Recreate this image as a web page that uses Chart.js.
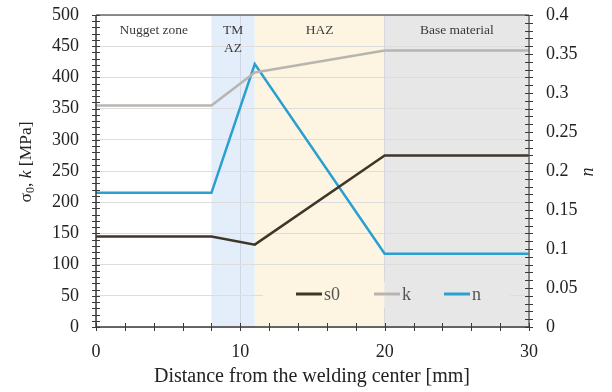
<!DOCTYPE html>
<html>
<head>
<meta charset="utf-8">
<script src="https://cdn.jsdelivr.net/npm/chart.js@4"></script>
<style>
  html, body { margin: 0; padding: 0; background: #fff; }
  #wrap { width: 612px; height: 392px; }
</style>
</head>
<body>
<div id="wrap"><canvas id="chart"></canvas></div>
<script>
// values
const distance = [0, 8, 11, 20, 30];
const s0 = [145, 145, 132, 275, 275];
const kVals = [355, 355, 408, 443, 443];
const nVals = [0.172, 0.172, 0.337, 0.094, 0.094];

const zoneNames = [['Nugget zone'], ['TM', 'AZ'], ['HAZ'], ['Base material']];
const zoneStart = [0, 8, 11, 20];
const zoneEnd = [8, 11, 20, 30];
const zoneColors = ['#ffffff', '#e4eefa', '#fdf5e2', '#e7e7e7'];

const serif = '"Liberation Serif", "DejaVu Serif", serif';
const axisColor = '#3a3a3a';

function pts(ys) {
  return distance.map((x, i) => ({ x: x, y: ys[i] }));
}

function fillZones(ctx, chart, clip) {
  const xs = chart.scales.x;
  const area = chart.chartArea;
  ctx.save();
  if (clip) {
    ctx.beginPath();
    ctx.rect(clip.x, clip.y, clip.w, clip.h);
    ctx.clip();
  }
  for (let i = 0; i < zoneStart.length; i++) {
    const x1 = xs.getPixelForValue(zoneStart[i]);
    const x2 = xs.getPixelForValue(zoneEnd[i]);
    ctx.fillStyle = zoneColors[i];
    ctx.fillRect(x1, area.top, x2 - x1, area.bottom - area.top);
  }
  ctx.restore();
}

const legendBox = { x: 263, y: 282, w: 247, h: 26 };

const zonePlugin = {
  id: 'zones',
  beforeDraw(chart) {
    fillZones(chart.ctx, chart, null);
  },
  beforeDatasetsDraw(chart) {
    const ctx = chart.ctx;
    // legend box covers gridlines
    fillZones(ctx, chart, legendBox);
    ctx.save();
    ctx.fillStyle = '#3a3a3a';
    ctx.font = '13.5px ' + serif;
    ctx.textAlign = 'center';
    ctx.textBaseline = 'middle';
    const xs = chart.scales.x;
    zoneNames.forEach((lines, i) => {
      const cx = xs.getPixelForValue((zoneStart[i] + zoneEnd[i]) / 2);
      lines.forEach((t, j) => ctx.fillText(t, cx, 30 + j * 18));
    });
    ctx.restore();
  },
  afterDraw(chart) {
    const ctx = chart.ctx;
    const area = chart.chartArea;
    const xs = chart.scales.x, yl = chart.scales.y, yr = chart.scales.y1;
    ctx.save();
    // frame
    ctx.strokeStyle = '#6b6b6b';
    ctx.lineWidth = 1.5;
    ctx.beginPath();
    ctx.moveTo(area.left, area.top); ctx.lineTo(area.right, area.top);
    ctx.moveTo(area.right, area.top); ctx.lineTo(area.right, area.bottom);
    ctx.stroke();
    ctx.strokeStyle = axisColor;
    ctx.beginPath();
    ctx.moveTo(area.left, area.top); ctx.lineTo(area.left, area.bottom);
    ctx.lineTo(area.right, area.bottom);
    ctx.stroke();
    // minor ticks
    ctx.lineWidth = 1;
    ctx.beginPath();
    for (let v = 0; v <= 500; v += 10) {
      const y = Math.round(yl.getPixelForValue(v)) + 0.5;
      ctx.moveTo(area.left - 4, y); ctx.lineTo(area.left + 4, y);
    }
    for (let v = 0; v <= 40; v += 1) {
      const y = Math.round(yr.getPixelForValue(v / 100)) + 0.5;
      ctx.moveTo(area.right - 4, y); ctx.lineTo(area.right + 4, y);
    }
    for (let v = 0; v <= 30; v += 2) {
      const x = Math.round(xs.getPixelForValue(v)) + 0.5;
      ctx.moveTo(x, area.bottom - 4); ctx.lineTo(x, area.bottom + 4);
    }
    ctx.stroke();

    // legend
    const items = chart.data.datasets;
    const lx = [296, 374, 444];
    ctx.font = '18px ' + serif;
    ctx.textBaseline = 'middle';
    ctx.textAlign = 'left';
    items.forEach((ds, i) => {
      ctx.strokeStyle = ds.borderColor;
      ctx.lineWidth = 3;
      ctx.beginPath();
      ctx.moveTo(lx[i], 294); ctx.lineTo(lx[i] + 26, 294);
      ctx.stroke();
      ctx.fillStyle = '#555555';
      ctx.fillText(ds.label, lx[i] + 28, 295);
    });
    ctx.restore();

    // left axis title: sigma_0, k [MPa]
    ctx.save();
    ctx.translate(26, 162);
    ctx.rotate(-Math.PI / 2);
    ctx.fillStyle = '#222';
    ctx.textBaseline = 'middle';
    const parts = [
      { t: 'σ', f: '17.5px ' + serif, dy: 0 },
      { t: '0', f: '12px ' + serif, dy: 5 },
      { t: ', ', f: '17.5px ' + serif, dy: 0 },
      { t: 'k', f: 'italic 17.5px ' + serif, dy: 0 },
      { t: ' [MPa]', f: '17.5px ' + serif, dy: 0 }
    ];
    let total = 0;
    parts.forEach(p => { ctx.font = p.f; p.w = ctx.measureText(p.t).width; total += p.w; });
    let px = -total / 2;
    parts.forEach(p => { ctx.font = p.f; ctx.fillText(p.t, px, p.dy); px += p.w; });
    ctx.restore();

    // right axis title n (rotated)
    ctx.save();
    ctx.translate(588, 172);
    ctx.rotate(-Math.PI / 2);
    ctx.fillStyle = '#222';
    ctx.font = 'italic 18px ' + serif;
    ctx.textAlign = 'center';
    ctx.textBaseline = 'middle';
    ctx.fillText('n', 0, 0);
    ctx.restore();

    ctx.save();
    ctx.fillStyle = '#222';
    ctx.font = '20px ' + serif;
    ctx.textAlign = 'center';
    ctx.textBaseline = 'middle';
    ctx.fillText('Distance from the welding center [mm]', 312, 377);
    ctx.restore();
  }
};

const tickFont = { family: serif, size: 18 };

const chart = new Chart(document.getElementById('chart'), {
  type: 'line',
  data: {
    datasets: [
      { label: 's0', data: pts(s0), borderColor: '#3f3629', borderWidth: 2.5, yAxisID: 'y' },
      { label: 'k', data: pts(kVals), borderColor: '#b8b4b0', borderWidth: 2.5, yAxisID: 'y' },
      { label: 'n', data: pts(nVals), borderColor: '#2a9fd0', borderWidth: 2.5, yAxisID: 'y1' }
    ]
  },
  options: {
    responsive: true,
    maintainAspectRatio: false,
    animation: false,
    layout: { padding: { top: 15, left: 0, right: 0, bottom: 0 } },
    elements: { point: { radius: 0 }, line: { tension: 0 } },
    plugins: { legend: { display: false }, tooltip: { enabled: false } },
    scales: {
      x: {
        type: 'linear', min: 0, max: 30,
        afterFit(s) { s.height = 65; s.paddingTop = 0; },
        ticks: {
          stepSize: 10, padding: 14, color: '#222', font: tickFont,
          maxRotation: 0
        },
        grid: { color: 'rgba(190,200,215,0.6)', drawTicks: false },
        border: { display: false }
      },
      y: {
        position: 'left', min: 0, max: 500,
        afterFit(s) { s.width = 96; s.paddingTop = 0; s.paddingBottom = 0; },
        ticks: { stepSize: 50, padding: 17, color: '#222', font: tickFont },
        grid: { color: '#dddddd', drawTicks: false },
        border: { display: false }
      },
      y1: {
        position: 'right', min: 0, max: 0.4,
        afterFit(s) { s.width = 83; s.paddingTop = 0; s.paddingBottom = 0; },
        ticks: {
          stepSize: 0.05, padding: 17, color: '#222', font: tickFont,
          callback: v => String(Number(v.toFixed(2)))
        },
        grid: { drawOnChartArea: false, drawTicks: false },
        border: { display: false }
      }
    }
  },
  plugins: [zonePlugin]
});
</script>
</body>
</html>
